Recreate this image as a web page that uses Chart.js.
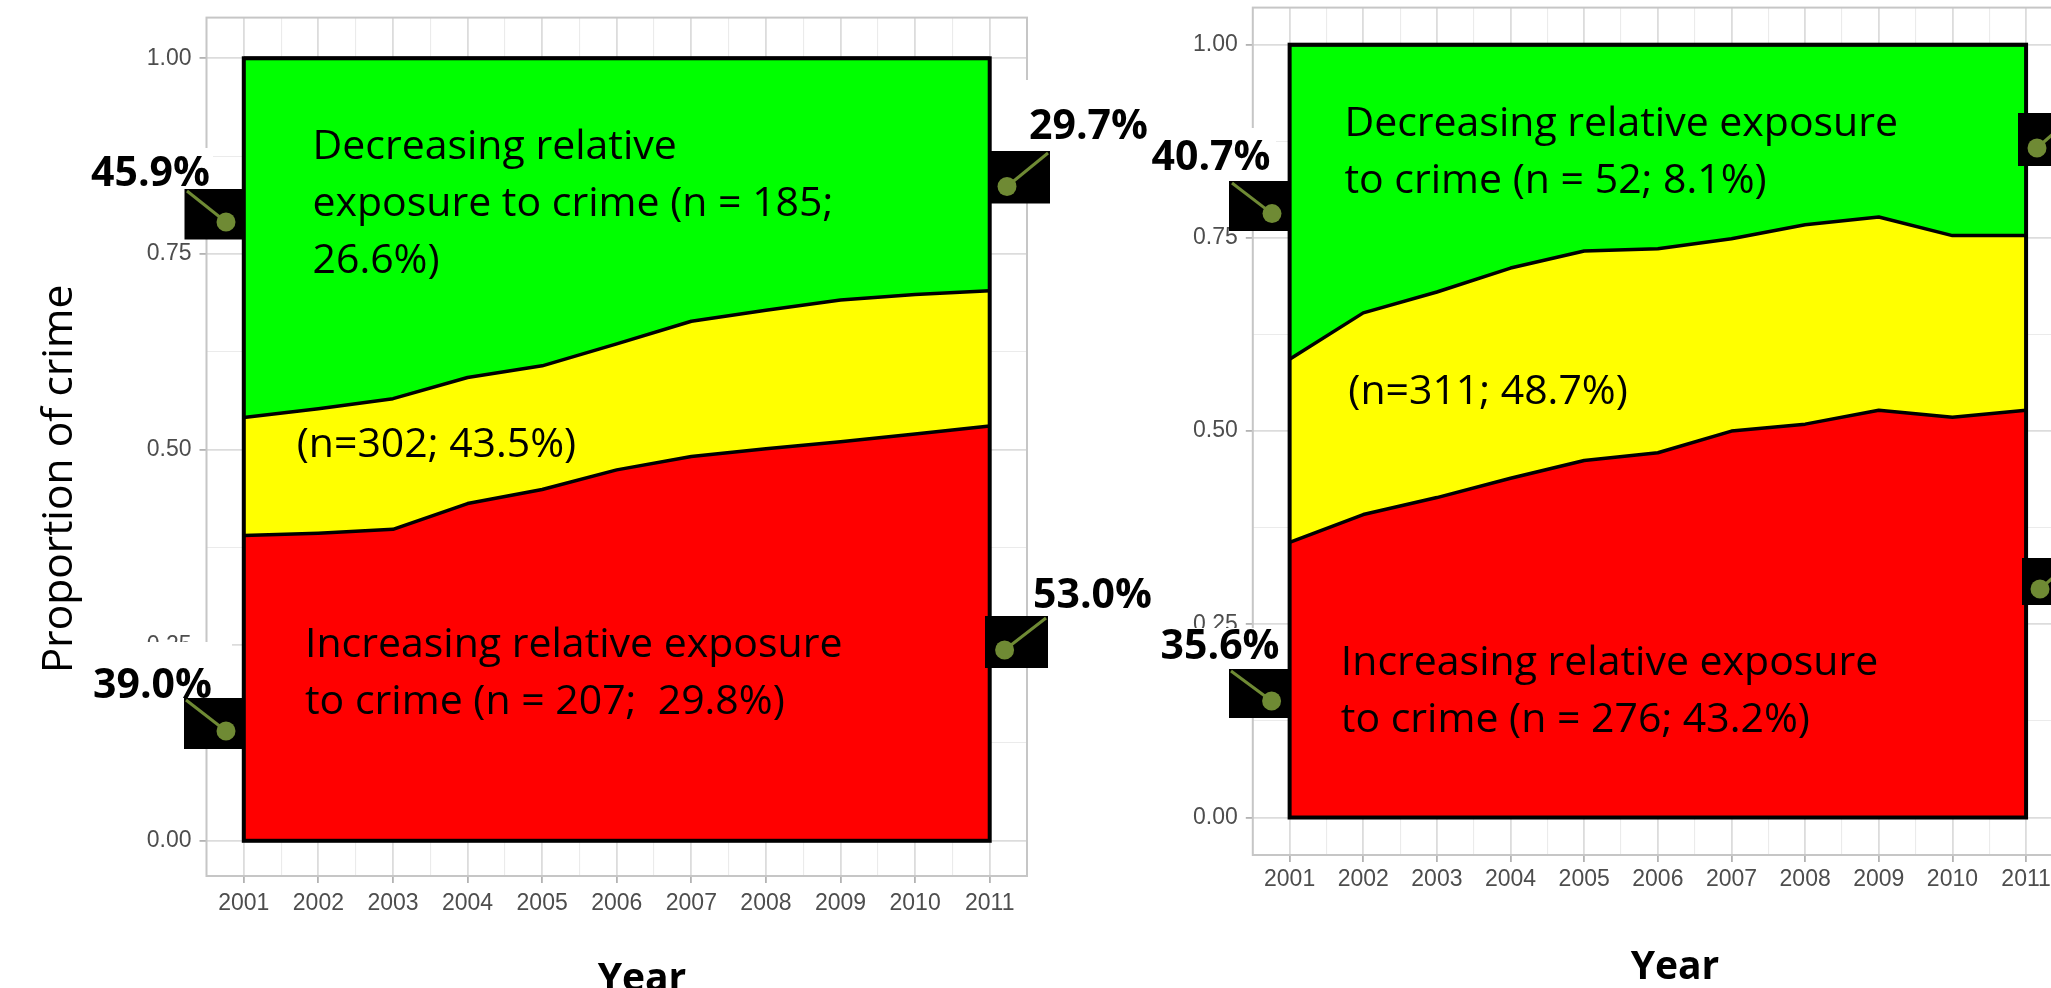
<!DOCTYPE html>
<html>
<head>
<meta charset="utf-8">
<title>Relative exposure to crime</title>
<script src="https://cdn.jsdelivr.net/npm/chart.js@4.4.1/dist/chart.umd.min.js"></script>
<style>
html,body{margin:0;padding:0;background:#fff;}
#wrap{position:relative;width:2051px;height:988px;overflow:hidden;background:#fff;}
#wrap canvas{position:absolute;top:0;}
</style>
</head>
<body>
<div id="wrap">
<canvas id="left" width="1165" height="1010" style="left:0;width:1165px;height:1010px"></canvas>
<canvas id="right" width="1000" height="1010" style="left:1100px;width:1000px;height:1010px"></canvas>
</div>
<script>
/* two stacked-area panels, proportion of crime by trajectory group */
const years=[2001,2002,2003,2004,2005,2006,2007,2008,2009,2010,2011];
// left panel
const leftIncreasing=[0.390,0.393,0.398,0.431,0.449,0.474,0.491,0.501,0.510,0.520,0.530];
const leftStable=[0.151,0.159,0.167,0.161,0.158,0.161,0.173,0.177,0.181,0.178,0.173];
const leftDecreasing=[0.459,0.448,0.435,0.408,0.393,0.365,0.336,0.322,0.309,0.302,0.297];
// right panel
const rightIncreasing=[0.356,0.392,0.414,0.439,0.462,0.472,0.500,0.509,0.527,0.518,0.527];
const rightStable=[0.237,0.261,0.266,0.272,0.271,0.264,0.249,0.258,0.250,0.235,0.226];
const rightDecreasing=[0.407,0.347,0.320,0.289,0.267,0.264,0.251,0.233,0.223,0.247,0.247];
const yMajor=[0,0.25,0.5,0.75,1];
const yTickLabels=['0.00','0.25','0.50','0.75','1.00'];
// annotation texts
const leftNotes=['Decreasing relative','exposure to crime (n = 185;','26.6%)','(n=302; 43.5%)','Increasing relative exposure','to crime (n = 207;  29.8%)'];
const leftPct=['45.9%','39.0%','29.7%','53.0%'];
const rightNotes=['Decreasing relative exposure','to crime (n = 52; 8.1%)','(n=311; 48.7%)','Increasing relative exposure','to crime (n = 276; 43.2%)'];
const rightPct=['40.7%','35.6%'];
const yTitle='Proportion of crime';
const xTitle='Year';

const RED='#ff0000',YELLOW='#ffff00',GREEN='#00ff00';
const MAJOR='#dcdcdc',MINOR='#ebebeb',PANEL='#c6c6c6',TICK='#b3b3b3',OLIVE='#6f8a34';
const TXT='41px "Open Sans"',BOLD='bold 41px "Open Sans"';

const xTicks=[];years.forEach(function(y,i){xTicks.push(y);if(i<years.length-1)xTicks.push(y+0.5);});
const yTicks=[];yMajor.forEach(function(v,i){yTicks.push(v);if(i<yMajor.length-1)yTicks.push((v+yMajor[i+1])/2);});

const panelPlugin={id:'panel',
  beforeDatasetsDraw(chart){const a=chart.chartArea,ctx=chart.ctx;ctx.save();ctx.strokeStyle=PANEL;ctx.lineWidth=2;
    ctx.strokeRect(a.left,a.top,a.right-a.left,a.bottom-a.top);ctx.restore();},
  afterDatasetsDraw(chart){const ctx=chart.ctx,xs=chart.scales.x,ys=chart.scales.y;
    const x0=xs.getPixelForValue(years[0]),x1=xs.getPixelForValue(years[years.length-1]);
    const y0=ys.getPixelForValue(yMajor[0]),y1=ys.getPixelForValue(yMajor[yMajor.length-1]);
    ctx.save();ctx.strokeStyle='#000';ctx.lineWidth=4;ctx.strokeRect(x0,y1,x1-x0,y0-y1);ctx.restore();}
};

function overlay(cfg){
  return {id:'overlay',afterDraw(chart){
    const ctx=chart.ctx,dx=cfg.dx;ctx.save();ctx.textBaseline='alphabetic';
    cfg.titles.forEach(function(t){ctx.save();ctx.font=t.font;ctx.fillStyle='#000';ctx.textAlign='center';
      ctx.translate(t.x-dx,t.y);ctx.rotate(t.rot||0);ctx.fillText(t.text,0,0);ctx.restore();});
    ctx.font=TXT;ctx.fillStyle='#000';ctx.textAlign='left';
    cfg.notes.forEach(function(n){ctx.fillText(n.text,n.x-dx,n.y);});
    cfg.pcts.forEach(function(p){ctx.fillStyle='#fff';ctx.fillRect(p.bg[0]-dx,p.bg[1],p.bg[2],p.bg[3]);
      ctx.fillStyle='#000';ctx.font=BOLD;ctx.fillText(p.text,p.x-dx,p.y);});
    cfg.pins.forEach(function(p){ctx.fillStyle='#000';ctx.fillRect(p.box[0]-dx,p.box[1],p.box[2],p.box[3]);
      ctx.strokeStyle=OLIVE;ctx.lineWidth=3;ctx.beginPath();ctx.moveTo(p.end[0]-dx,p.end[1]);ctx.lineTo(p.c[0]-dx,p.c[1]);ctx.stroke();
      ctx.fillStyle=OLIVE;ctx.beginPath();ctx.arc(p.c[0]-dx,p.c[1],9.5,0,Math.PI*2);ctx.fill();});
    ctx.restore();}};
}

function buildChart(el,inc,stab,dec,box,ov){
  const pts=function(arr){return years.map(function(y,i){return{x:y,y:arr[i]};});};
  const ds=[{label:'Increasing',data:pts(inc),backgroundColor:RED,fill:'origin'},
    {label:'Stable',data:pts(stab),backgroundColor:YELLOW,fill:'-1'},
    {label:'Decreasing',data:pts(dec),backgroundColor:GREEN,fill:'-1'}];
  ds.forEach(function(d){d.borderColor='#000';d.borderWidth=3.5;d.pointRadius=0;d.tension=0;d.borderJoinStyle='round';});
  const xMaj=function(c){return c.tick&&Number.isInteger(c.tick.value);};
  const yMaj=function(c){return c.tick&&yMajor.indexOf(c.tick.value)>=0;};
  const tickFont={family:'"Liberation Sans", Arial, sans-serif',size:23};
  return new Chart(el,{type:'line',data:{datasets:ds},options:{
    responsive:false,animation:false,events:[],
    layout:{autoPadding:false,padding:{left:0,top:box.top,right:box.padRight,bottom:0}},
    plugins:{legend:{display:false},tooltip:{enabled:false}},
    scales:{
      x:{type:'linear',min:2000.5,max:2011.5,
        afterBuildTicks:function(s){s.ticks=xTicks.map(function(v){return{value:v};});},
        afterFit:function(s){s.height=box.xHeight;s.paddingLeft=0;s.paddingRight=0;},
        border:{display:false},
        grid:{color:function(c){return xMaj(c)?MAJOR:MINOR;},lineWidth:function(c){return xMaj(c)?1.8:1.1;},
          tickColor:function(c){return xMaj(c)?TICK:'rgba(0,0,0,0)';},tickLength:7,tickWidth:1.8},
        ticks:{autoSkip:false,maxRotation:0,minRotation:0,padding:box.xPad,color:'#4d4d4d',font:tickFont,
          callback:function(v){return Number.isInteger(v)?String(v):'';}}},
      y:{type:'linear',stacked:true,min:box.yMin,max:box.yMax,
        afterBuildTicks:function(s){s.ticks=yTicks.map(function(v){return{value:v};});},
        afterFit:function(s){s.width=box.yWidth;s.paddingTop=0;s.paddingBottom=0;},
        border:{display:false},
        grid:{color:function(c){return yMaj(c)?MAJOR:MINOR;},lineWidth:function(c){return yMaj(c)?1.8:1.1;},
          tickColor:function(c){return yMaj(c)?TICK:'rgba(0,0,0,0)';},tickLength:7,tickWidth:1.8},
        ticks:{autoSkip:false,padding:8,color:'#4d4d4d',font:tickFont,
          callback:function(v){const i=yMajor.indexOf(v);return i>=0?yTickLabels[i]:'';}}}
    }},plugins:[panelPlugin,overlay(ov)]});
}

buildChart(document.getElementById('left'),leftIncreasing,leftStable,leftDecreasing,
  {top:17.6,padRight:1165-1027,xHeight:1010-876,yWidth:206.5,xPad:7,yMin:-0.045,yMax:1.052},
  {dx:0,
   titles:[{text:yTitle,font:'42.5px "Open Sans"',x:71.7,y:479,rot:-Math.PI/2},{text:xTitle,font:'bold 39px "Open Sans"',x:642,y:991}],
   notes:[{text:leftNotes[0],x:312.5,y:158.5},{text:leftNotes[1],x:312.5,y:215.5},{text:leftNotes[2],x:312.5,y:273},
     {text:leftNotes[3],x:296.7,y:456.7},{text:leftNotes[4],x:305,y:657},{text:leftNotes[5],x:305,y:714}],
   pcts:[{text:leftPct[0],x:91,y:186,bg:[88,148,125,41]},{text:leftPct[1],x:93,y:698,bg:[88,642,144,56]},
     {text:leftPct[2],x:1029,y:138.6,bg:[1026,80,130,71]},{text:leftPct[3],x:1033,y:608,bg:[1028,555,127,61]}],
   pins:[{box:[184.5,189,59,50.5],c:[226,222],end:[187,191]},{box:[184,698,59,51],c:[226,731],end:[186,700]},
     {box:[988,151,62,52.5],c:[1007,186.5],end:[1048,153]},{box:[985,616,63,52],c:[1004.6,650],end:[1046,618]}]});

buildChart(document.getElementById('right'),rightIncreasing,rightStable,rightDecreasing,
  {top:7.6,padRight:1000-962.9,xHeight:1010-855,yWidth:152.8,xPad:4,yMin:-0.0485,yMax:1.048},
  {dx:1100,
   titles:[{text:xTitle,font:'bold 39px "Open Sans"',x:1675,y:979.3}],
   notes:[{text:rightNotes[0],x:1344.4,y:135.5},{text:rightNotes[1],x:1344.4,y:192.5},{text:rightNotes[2],x:1348.3,y:404},
     {text:rightNotes[3],x:1340.8,y:675},{text:rightNotes[4],x:1340.8,y:732}],
   pcts:[{text:rightPct[0],x:1151.5,y:170,bg:[1152,128,124,53]},{text:rightPct[1],x:1160.6,y:658.5,bg:[1157,628,127,41]}],
   pins:[{box:[1229,181,61,50],c:[1272,213.6],end:[1232,183]},{box:[1229,669,59,49],c:[1271.6,701],end:[1231,671]},
     {box:[2018,113,40,53],c:[2037,148],end:[2062,126]},{box:[2022,558,40,47],c:[2040,589],end:[2064,568]}]});
</script>
</body>
</html>
